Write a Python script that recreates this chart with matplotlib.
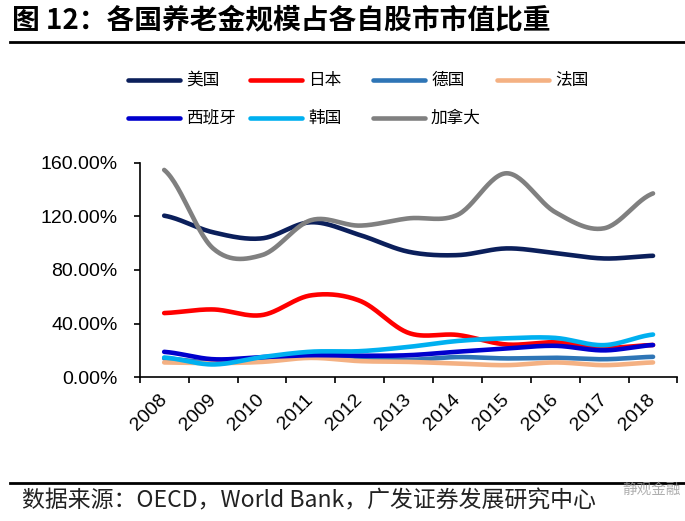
import numpy as np
import matplotlib
matplotlib.use("Agg")
import matplotlib.pyplot as plt
from matplotlib.lines import Line2D

plt.rcParams['font.family'] = ['Noto Sans CJK SC', 'DejaVu Sans']

years = ['2008', '2009', '2010', '2011', '2012', '2013', '2014', '2015', '2016', '2017', '2018']
usa = [120.4, 108, 103.5, 115.5, 106, 93.5, 91, 96, 92.5, 88.5, 90.5]
japan = [47.8, 50.5, 46.3, 61, 57, 33, 31.5, 24.4, 26, 22, 24]
germany = [14, 11, 14, 17, 15, 13, 15, 14, 14.5, 13.4, 15.2]
france = [11, 10.5, 11.4, 14.4, 12, 11.4, 10.2, 9, 11, 9, 11]
spain = [18.9, 13.4, 15, 16.4, 16, 16.4, 19, 21.4, 23.4, 20, 24]
korea = [14.7, 9.5, 15, 19, 19.4, 22.6, 27, 29, 29.3, 23.9, 31.8]
canada = [154.5, 96, 91, 117, 113, 118.4, 121, 152, 123, 111, 137]

names = ['美国', '日本', '德国', '法国', '西班牙', '韩国', '加拿大']
series = [usa, japan, germany, france, spain, korea, canada]
colors = ['#0B1F5B', '#FF0000', '#2E75B6', '#F4B183', '#0000CD', '#00B0F0', '#808080']


def smooth(y, n=30):
    # excel style smoothed line: bezier segments through the points
    y = np.asarray(y, float)
    x = np.arange(len(y), dtype=float)
    xs, ys = [], []
    for i in range(len(y) - 1):
        p0, p3 = y[i], y[i + 1]
        ym1 = y[i - 1] if i > 0 else y[i]
        yp2 = y[i + 2] if i + 2 < len(y) else y[i + 1]
        p1 = p0 + (p3 - ym1) / 6
        p2 = p3 - (yp2 - p0) / 6
        t = np.linspace(0, 1, n)
        ys.append((1 - t) ** 3 * p0 + 3 * (1 - t) ** 2 * t * p1 + 3 * (1 - t) * t ** 2 * p2 + t ** 3 * p3)
        xs.append(x[i] + t)
    return np.concatenate(xs), np.concatenate(ys)


fig = plt.figure(figsize=(6.85, 5.21), dpi=100)
ax = fig.add_axes([0.204, 0.276, 0.785, 0.412])

for s, c in zip(series, colors):
    xx, yy = smooth(s)
    ax.plot(xx, yy, color=c, lw=3.3, solid_capstyle='round')

ax.set_xlim(-0.5, len(years) - 0.5)
ax.set_ylim(0, 160)
ax.set_yticks([0, 40, 80, 120, 160])
ax.set_yticklabels(['0.00%', '40.00%', '80.00%', '120.00%', '160.00%'],
                   family='Liberation Sans', fontsize=14)
ax.set_xticks(np.arange(len(years) + 1) - 0.5)
ax.set_xticklabels([])
ax.set_xticks(np.arange(len(years)), minor=True)
ax.set_xticklabels(years, minor=True, rotation=45, ha='right', va='center',
                   rotation_mode='anchor', family='Liberation Sans', fontsize=14)
ax.tick_params(axis='x', which='minor', length=0, pad=14)
ax.tick_params(axis='x', which='major', direction='out', length=4, width=1.2)
ax.tick_params(axis='y', direction='out', length=4, width=1.2, pad=12)
ax.spines['top'].set_visible(False)
ax.spines['right'].set_visible(False)
for sp in ['left', 'bottom']:
    ax.spines[sp].set_linewidth(1.2)

# title and rules
fig.text(12 / 685, 1 - 21 / 521, '图 12：各国养老金规模占各自股市市值比重', fontsize=20,
         fontweight='bold', va='center', ha='left')
fig.add_artist(Line2D([10 / 685, 1], [1 - 42 / 521] * 2, color='black', lw=2))
fig.add_artist(Line2D([10 / 685, 1], [1 - 483 / 521] * 2, color='black', lw=2))
fig.text(22 / 685, 1 - 501 / 521, '数据来源：OECD，World Bank，广发证券发展研究中心',
         fontsize=16.5, va='center', ha='left', color='#222222')
fig.text(622 / 685, 1 - 490 / 521, '静观金融', fontsize=10.5, va='center', ha='left',
         color='#9a9a9a', alpha=0.8)

# legend drawn in excel grid
col_x = [128, 250, 373, 497]
row_y = [80, 118]
for i, (nm, c) in enumerate(zip(names, colors)):
    r, k = divmod(i, 4)
    x0 = col_x[k]
    y0 = 1 - row_y[r] / 521
    fig.add_artist(Line2D([x0 / 685, (x0 + 52) / 685], [y0, y0], color=c, lw=3.3,
                          solid_capstyle='round'))
    fig.text((x0 + 58) / 685, y0, nm, fontsize=12, va='center', ha='left')

plt.savefig('out.png', dpi=100)
